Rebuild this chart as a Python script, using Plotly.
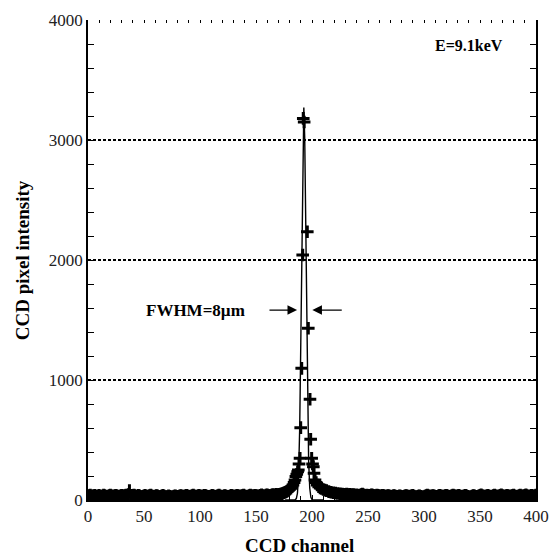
import plotly.graph_objects as go

# ---- data ----
base_left = [32, 38, 41, 35, 29, 36, 40, 33, 27, 34,
             39, 31, 28, 35, 42, 37, 30, 26, 33, 38,
             41, 36, 29, 32, 37, 40, 34, 28, 31, 36,
             39, 33, 27, 35, 41, 38, 45, 78, 40, 34,
             37, 42, 36, 30, 33, 39, 35, 29, 26, 31,
             36, 40, 33, 28, 32, 37, 41, 35, 30, 27,
             33, 38, 34, 29, 26, 30, 35, 39, 32, 28,
             25, 29, 34, 31, 27, 24, 28, 33, 36, 30,
             27, 31, 35, 38, 33, 29, 32, 36, 40, 34,
             30, 27, 33, 37, 41, 35, 31, 28, 34, 39,
             36, 32, 29, 35, 40, 37, 33, 30, 27, 31,
             35, 39, 34, 30, 28, 32, 37, 41, 36, 31,
             29, 33, 38, 35, 31, 27, 30, 34, 39, 36,
             32, 29, 35, 40, 37, 33, 30, 34, 38, 42,
             36, 31, 28, 33, 37, 41, 35, 32, 36, 40,
             38, 34, 31, 35, 39, 43, 37, 33, 36, 41,
             44, 39, 35, 38, 42, 46, 40, 43, 47, 44]
base_left_start = 0

peak_x = [170, 171, 172, 173, 174, 175, 176, 177, 178, 179, 180, 181, 182, 183, 184,
          184.8, 185.6, 186.4, 187.2, 187.8, 188.4, 189.3, 189.9, 190.8, 191.7, 192.2,
          193.0, 195.8, 196.7, 198.2, 198.8, 199.7, 200.5, 201.2, 201.8, 202.7, 203.7,
          204.7, 206, 207.3, 208.6, 210, 211.5, 213, 215, 217, 219, 221, 223, 225, 227]
peak_y = [45, 48, 50, 52, 56, 60, 64, 69, 75, 82, 89, 98, 110, 125, 145,
          167, 195, 215, 236, 250, 300, 347, 603, 1097, 2042, 3180,
          3150, 2236, 1431, 839, 506, 347, 300, 278, 222, 167, 145,
          125, 110, 100, 97, 88, 82, 78, 70, 65, 61, 57, 54, 52, 50]

base_right = [48, 46, 50, 45, 43, 47, 44, 41, 45, 42,
              39, 43, 40, 37, 41, 45, 49, 44, 40, 38,
              42, 39, 36, 40, 44, 41, 37, 34, 38, 42,
              39, 35, 32, 36, 40, 37, 33, 30, 34, 38,
              35, 31, 28, 33, 37, 34, 30, 27, 31, 36,
              33, 29, 26, 30, 34, 38, 35, 31, 28, 32,
              36, 40, 33, 29, 25, 28, 32, 35, 31, 27,
              24, 28, 33, 37, 41, 36, 32, 29, 34, 38,
              35, 31, 27, 30, 34, 39, 36, 32, 28, 33,
              37, 40, 35, 31, 29, 33, 38, 42, 37, 33,
              30, 34, 39, 35, 31, 28, 32, 36, 40, 34,
              30, 27, 25, 29, 33, 37, 34, 30, 27, 31,
              35, 39, 43, 37, 33, 29, 32, 36, 40, 35,
              31, 28, 33, 38, 42, 36, 32, 29, 34, 39,
              43, 38, 33, 30, 35, 40, 37, 32, 29, 34,
              38, 42, 36, 31, 28, 33, 37, 41, 35, 30,
              34, 39, 44, 38, 33, 30, 35, 40, 36, 31,
              37, 42]
base_right_start = 229

fit_x = [176, 185, 186, 187, 188, 189, 190, 191, 191.5, 192, 192.7,
         193.5, 194, 194.5, 195, 196, 197, 198, 199, 200, 201, 210]
fit_y = [0, 2, 12, 56, 206, 591, 1315, 2279, 2731, 3076, 3270,
         3018, 2647, 2181, 1688, 838, 324, 98, 23, 4, 0, 0]

x_tick_vals = [0, 50, 100, 150, 200, 250, 300, 350, 400]
y_tick_vals = [0, 1000, 2000, 3000, 4000]

# ---- assemble ----
data_x = ([base_left_start + i for i in range(len(base_left))] + peak_x +
          [base_right_start + i for i in range(len(base_right))])
data_y = base_left + peak_y + base_right

FONT = "Liberation Serif, Times New Roman, serif"

fig = go.Figure()
fig.add_trace(go.Scatter(x=fit_x, y=fit_y, mode="lines",
                         line=dict(color="black", width=1.4), showlegend=False))
fig.add_trace(go.Scatter(x=data_x, y=data_y, mode="markers",
                         marker=dict(symbol="cross-thin", size=9, color="black",
                                     line=dict(color="black", width=3)),
                         showlegend=False))
# dummy trace for mirrored axes
fig.add_trace(go.Scatter(x=[None], y=[None], xaxis="x2", yaxis="y2", showlegend=False))

fig.update_layout(
    width=554, height=556,
    margin=dict(l=88, r=18, t=20, b=56, autoexpand=False),
    paper_bgcolor="white", plot_bgcolor="white",
    font=dict(family=FONT, color="#222", size=17),
    xaxis=dict(range=[0, 400], tickvals=x_tick_vals, ticks="inside", ticklen=5,
               tickcolor="black", showline=True, linecolor="black", linewidth=1.5,
               showgrid=False, zeroline=False, automargin=False,
               minor=dict(dtick=10, ticks="inside", ticklen=4, tickcolor="black"),
               tickfont=dict(size=17, family=FONT, color="#222")),
    yaxis=dict(range=[0, 4000], tickvals=y_tick_vals, ticks="inside", ticklen=6,
               tickcolor="black", showline=True, linecolor="black", linewidth=1.5,
               showgrid=True, gridcolor="black", gridwidth=1.5, griddash="3px,2px",
               zeroline=False, automargin=False,
               minor=dict(dtick=200, ticks="inside", ticklen=6, tickcolor="black",
                          showgrid=False),
               tickfont=dict(size=17, family=FONT, color="#222")),
    xaxis2=dict(range=[0, 400], overlaying="x", side="top", showticklabels=False,
                ticks="inside", ticklen=3, dtick=10, tickcolor="black", automargin=False,
                showline=False, showgrid=False, zeroline=False),
    yaxis2=dict(range=[0, 4000], overlaying="y", side="right", showticklabels=False,
                ticks="inside", ticklen=6, dtick=200, tickcolor="black", automargin=False,
                showline=True, linecolor="black", linewidth=1.5,
                showgrid=False, zeroline=False),
)

fig.add_annotation(x=0.473, y=-0.094, xref="paper", yref="paper",
                   xanchor="center", yanchor="middle",
                   text="<b>CCD channel</b>", showarrow=False,
                   font=dict(size=19, family=FONT, color="black"))
fig.add_annotation(x=-0.147, y=0.5, xref="paper", yref="paper",
                   xanchor="center", yanchor="middle",
                   text="<b>CCD pixel intensity</b>", showarrow=False, textangle=-90,
                   font=dict(size=19, family=FONT, color="black"))
fig.add_annotation(x=340, y=3790, text="<b>E=9.1keV</b>", showarrow=False,
                   font=dict(size=16, family=FONT, color="black"))
fig.add_annotation(x=96, y=1583, text="<b>FWHM=8µm</b>", showarrow=False,
                   font=dict(size=17, family=FONT, color="black"))
fig.add_annotation(x=186.7, y=1583, ax=160.7, ay=1583, axref="x", ayref="y",
                   text="", showarrow=True, arrowhead=2, arrowsize=1.6,
                   arrowwidth=1.2, arrowcolor="black")
fig.add_annotation(x=200.3, y=1583, ax=227.9, ay=1583, axref="x", ayref="y",
                   text="", showarrow=True, arrowhead=2, arrowsize=1.6,
                   arrowwidth=1.2, arrowcolor="black")

fig.write_html("out.html")
